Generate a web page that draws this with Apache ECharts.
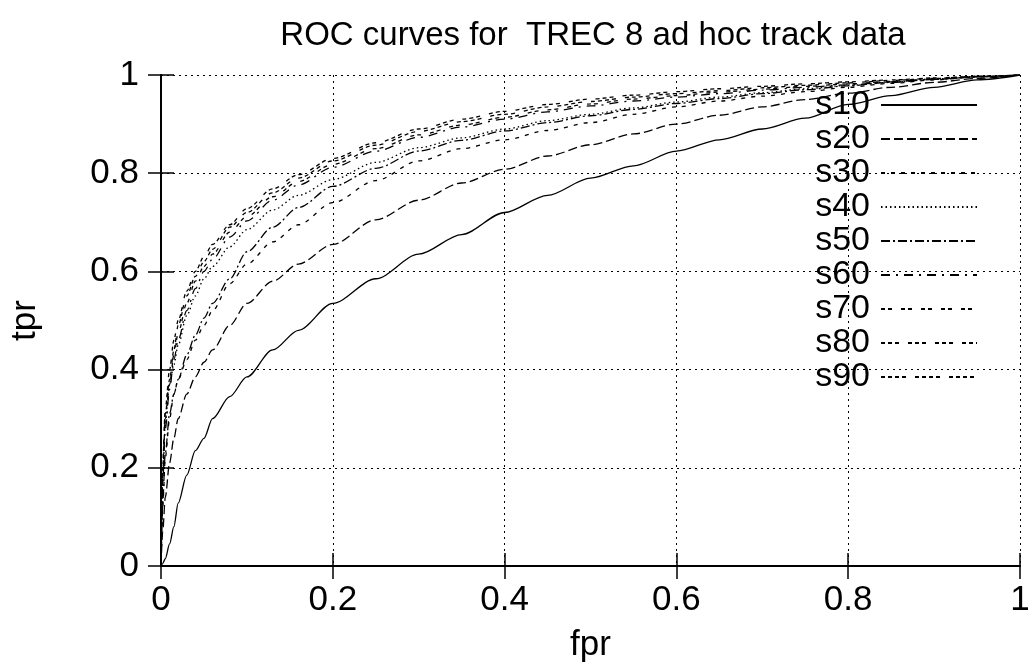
<!DOCTYPE html>
<html>
<head>
<meta charset="utf-8">
<script src="https://cdn.jsdelivr.net/npm/echarts@6/dist/echarts.min.js"></script>
<style>html,body{margin:0;padding:0;background:#fff}#c{width:1033px;height:668px}</style>
</head>
<body>
<div id="c"></div>
<script>
const titleText = 'ROC curves for  TREC 8 ad hoc track data';
const seriesNames = ['s10','s20','s30','s40','s50','s60','s70','s80','s90'];
const xTicks = [0, 0.2, 0.4, 0.6, 0.8, 1];
const yTicks = [0, 0.2, 0.4, 0.6, 0.8, 1];
const fpr = [0, 0.002, 0.005, 0.01, 0.015, 0.02, 0.03, 0.04, 0.05, 0.06, 0.08, 0.1, 0.13, 0.16, 0.2, 0.25, 0.3, 0.35, 0.4, 0.45, 0.5, 0.55, 0.6, 0.65, 0.7, 0.75, 0.8, 0.85, 0.9, 0.95, 1];
const s10 = [0, 0.005, 0.015, 0.045, 0.08, 0.128, 0.185, 0.235, 0.26, 0.3, 0.345, 0.385, 0.44, 0.48, 0.535, 0.585, 0.635, 0.675, 0.72, 0.755, 0.79, 0.815, 0.845, 0.868, 0.89, 0.912, 0.94, 0.958, 0.975, 0.99, 1];
const s20 = [0, 0.07, 0.14, 0.21, 0.26, 0.3, 0.35, 0.385, 0.415, 0.44, 0.49, 0.535, 0.58, 0.615, 0.655, 0.705, 0.745, 0.78, 0.808, 0.835, 0.858, 0.88, 0.9, 0.918, 0.935, 0.95, 0.963, 0.975, 0.985, 0.993, 1];
const s30 = [0, 0.12, 0.22, 0.3, 0.35, 0.38, 0.42, 0.46, 0.49, 0.52, 0.575, 0.615, 0.66, 0.695, 0.74, 0.785, 0.825, 0.85, 0.868, 0.887, 0.903, 0.92, 0.935, 0.947, 0.957, 0.966, 0.975, 0.983, 0.99, 0.996, 1];
const s40 = [0, 0.18, 0.29, 0.37, 0.41, 0.45, 0.51, 0.55, 0.585, 0.61, 0.65, 0.685, 0.725, 0.755, 0.787, 0.822, 0.852, 0.872, 0.89, 0.907, 0.92, 0.933, 0.945, 0.955, 0.964, 0.972, 0.979, 0.986, 0.992, 0.997, 1];
const s50 = [0, 0.13, 0.23, 0.31, 0.35, 0.38, 0.43, 0.47, 0.505, 0.535, 0.585, 0.64, 0.69, 0.73, 0.773, 0.81, 0.845, 0.867, 0.886, 0.903, 0.917, 0.93, 0.942, 0.952, 0.962, 0.97, 0.978, 0.985, 0.991, 0.997, 1];
const s60 = [0, 0.17, 0.28, 0.36, 0.42, 0.46, 0.52, 0.565, 0.6, 0.625, 0.67, 0.703, 0.745, 0.776, 0.812, 0.845, 0.873, 0.894, 0.91, 0.925, 0.937, 0.947, 0.955, 0.962, 0.969, 0.975, 0.98, 0.986, 0.991, 0.996, 1];
const s70 = [0, 0.19, 0.3, 0.37, 0.43, 0.475, 0.535, 0.58, 0.61, 0.635, 0.68, 0.712, 0.752, 0.783, 0.818, 0.85, 0.878, 0.898, 0.914, 0.929, 0.941, 0.951, 0.958, 0.965, 0.971, 0.977, 0.982, 0.987, 0.992, 0.996, 1];
const s80 = [0, 0.21, 0.32, 0.4, 0.46, 0.5, 0.56, 0.6, 0.63, 0.655, 0.695, 0.728, 0.768, 0.797, 0.83, 0.862, 0.89, 0.91, 0.926, 0.94, 0.951, 0.959, 0.966, 0.972, 0.977, 0.982, 0.986, 0.99, 0.994, 0.997, 1];
const s90 = [0, 0.2, 0.31, 0.38, 0.44, 0.49, 0.55, 0.59, 0.62, 0.645, 0.69, 0.72, 0.76, 0.79, 0.825, 0.857, 0.885, 0.905, 0.92, 0.935, 0.946, 0.955, 0.962, 0.968, 0.974, 0.979, 0.984, 0.989, 0.993, 0.997, 1];

const tprSets = [s10, s20, s30, s40, s50, s60, s70, s80, s90];
const dashes = ['solid', [9,4], [4,6], [1.5,3], [9,3,2,3], [9,6,2,6], [4,3,4,9], [4,3,4,3,4,9], [4,3,4,3,4,3,4,9]];

const FONT = '"Liberation Sans", Arial, sans-serif';
const fmt = v => String(Math.round(v * 10) / 10);
const FS = 35;

const chart = echarts.init(document.getElementById('c'), null, {renderer: 'canvas'});
const axisCommon = {
  type: 'value', min: 0, max: 1, interval: 0.2,
  axisLine: {show: true, lineStyle: {color: '#000', width: 2}},
  axisTick: {show: true, inside: true, length: 13, lineStyle: {color: '#000', width: 1.5}},
};
chart.setOption({
  animation: false,
  backgroundColor: '#fff',
  title: {text: titleText, left: 588, textAlign: 'center', top: 14,
    textStyle: {fontFamily: FONT, fontSize: 33, fontWeight: 'normal', color: '#000'}},
  grid: {left: 160, right: 13, top: 75, bottom: 100, containLabel: false},
  legend: {
    orient: 'vertical', right: 55, top: 88, align: 'right',
    itemWidth: 96, itemHeight: 14, itemGap: 0, padding: 0,
    itemStyle: {opacity: 0},
    textStyle: {fontFamily: FONT, fontSize: 34, color: '#000', lineHeight: 34, padding: [0, 6, 0, 0]},
    data: seriesNames
  },
  xAxis: [
    Object.assign({}, axisCommon, {position: 'bottom', name: 'fpr', nameLocation: 'middle', nameGap: 62,
      nameTextStyle: {fontFamily: FONT, fontSize: FS, color: '#000'},
      splitLine: {show: true, lineStyle: {color: '#000', width: 1, type: [2, 4]}},
      axisLabel: {fontFamily: FONT, fontSize: FS, color: '#000', margin: 17, formatter: fmt,
        customValues: xTicks}}),
    Object.assign({}, axisCommon, {position: 'top', axisLabel: {show: false}, splitLine: {show: false}})
  ],
  yAxis: [
    Object.assign({}, axisCommon, {position: 'left', name: 'tpr', nameLocation: 'middle', nameGap: 118,
      nameTextStyle: {fontFamily: FONT, fontSize: FS, color: '#000'},
      splitLine: {show: true, lineStyle: {color: '#000', width: 1, type: [2, 4]}},
      axisLabel: {fontFamily: FONT, fontSize: FS, color: '#000', margin: 22, formatter: fmt,
        customValues: yTicks}}),
    Object.assign({}, axisCommon, {position: 'right', axisLabel: {show: false}, splitLine: {show: false}})
  ],
  series: seriesNames.map((name, k) => ({
    name: name, type: 'line', xAxisIndex: 0, yAxisIndex: 0,
    data: fpr.map((x, i) => [x, tprSets[k][i]]),
    symbol: 'none', smooth: 0.3, smoothMonotone: 'x',
    lineStyle: {color: '#000', width: 1.3, type: dashes[k]},
    itemStyle: {color: '#000'}
  }))
});
</script>
</body>
</html>
